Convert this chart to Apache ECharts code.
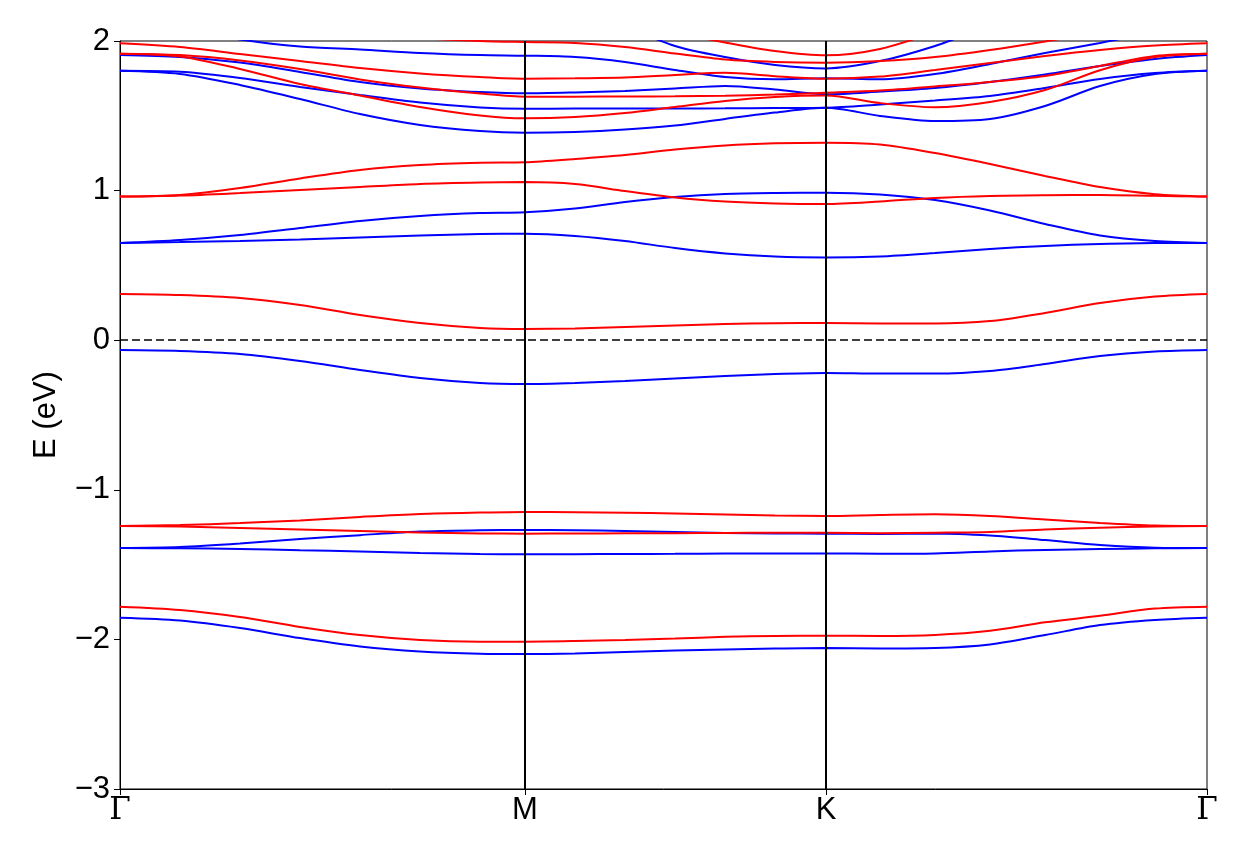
<!DOCTYPE html>
<html><head><meta charset="utf-8">
<script src="https://cdn.jsdelivr.net/npm/echarts@6/dist/echarts.min.js"></script>
<style>html,body{margin:0;padding:0;background:#fff}#c{width:1256px;height:850px}</style>
</head><body><div id="c"></div>
<script>
// k-path positions (arbitrary distance units along Γ-M-K-Γ)
const kx = [0,60,120,180,240,300,360,405,455,505,555,605,655,706,760,815,870,925,980,1035,1087];
const kTickPos = [0,405,706,1087];
const kTickLabels = ['Γ','M','K','Γ'];
const yTickValues = [-3,-2,-1,0,1,2];

// spin channel 1 (red)
const r1 = [-1.781,-1.803,-1.850,-1.917,-1.971,-2.004,-2.015,-2.015,-2.011,-2.004,-1.994,-1.983,-1.977,-1.975,-1.977,-1.970,-1.942,-1.886,-1.842,-1.794,-1.781];
const r2 = [-1.242,-1.236,-1.222,-1.205,-1.181,-1.161,-1.152,-1.148,-1.150,-1.153,-1.158,-1.165,-1.172,-1.175,-1.168,-1.164,-1.175,-1.199,-1.222,-1.239,-1.242];
const r3 = [-1.242,-1.245,-1.255,-1.265,-1.275,-1.285,-1.292,-1.293,-1.292,-1.291,-1.290,-1.289,-1.287,-1.287,-1.290,-1.287,-1.282,-1.265,-1.254,-1.245,-1.242];
const r4 = [0.309,0.302,0.282,0.235,0.168,0.115,0.082,0.075,0.078,0.088,0.098,0.108,0.114,0.115,0.112,0.112,0.128,0.182,0.249,0.292,0.309];
const r5 = [0.960,0.967,0.984,1.004,1.024,1.044,1.054,1.057,1.044,0.997,0.954,0.927,0.914,0.910,0.927,0.951,0.964,0.969,0.971,0.965,0.960];
const r6 = [0.960,0.971,1.017,1.081,1.138,1.171,1.186,1.189,1.211,1.238,1.275,1.302,1.316,1.320,1.308,1.251,1.178,1.098,1.024,0.976,0.960];
const r7 = [1.915,1.897,1.813,1.713,1.636,1.559,1.502,1.483,1.492,1.519,1.559,1.599,1.626,1.636,1.585,1.557,1.592,1.672,1.805,1.893,1.915];
const r8 = [1.915,1.906,1.870,1.813,1.743,1.689,1.649,1.628,1.628,1.629,1.630,1.634,1.642,1.654,1.669,1.696,1.726,1.766,1.833,1.900,1.915];
const r9 = [1.985,1.960,1.913,1.866,1.819,1.783,1.759,1.748,1.751,1.756,1.773,1.787,1.765,1.748,1.762,1.806,1.853,1.900,1.940,1.970,1.985];
const r10 = [2.15,2.145,2.13,2.10,2.06,2.02,2.00,1.993,1.987,1.960,1.916,1.876,1.860,1.855,1.866,1.893,1.940,1.997,2.06,2.12,2.15];
const r11 = [2.40,2.40,2.40,2.40,2.40,2.40,2.38,2.35,2.25,2.15,2.06,1.99,1.933,1.904,1.947,2.06,2.20,2.30,2.35,2.38,2.40];

// spin channel 2 (blue)
const b1 = [-1.855,-1.874,-1.924,-1.991,-2.047,-2.081,-2.096,-2.098,-2.094,-2.084,-2.074,-2.067,-2.061,-2.057,-2.060,-2.057,-2.034,-1.971,-1.904,-1.870,-1.855];
const b2 = [-1.389,-1.382,-1.359,-1.329,-1.303,-1.279,-1.271,-1.269,-1.270,-1.275,-1.282,-1.289,-1.292,-1.293,-1.295,-1.292,-1.306,-1.336,-1.369,-1.387,-1.389];
const b3 = [-1.389,-1.391,-1.396,-1.404,-1.412,-1.422,-1.429,-1.431,-1.430,-1.429,-1.428,-1.426,-1.425,-1.425,-1.428,-1.426,-1.412,-1.402,-1.396,-1.391,-1.389];
const b4 = [-0.066,-0.072,-0.092,-0.139,-0.199,-0.253,-0.286,-0.293,-0.286,-0.273,-0.256,-0.239,-0.226,-0.219,-0.223,-0.223,-0.206,-0.159,-0.106,-0.076,-0.066];
const b5 = [0.650,0.656,0.663,0.673,0.687,0.700,0.710,0.712,0.697,0.663,0.616,0.580,0.559,0.553,0.560,0.583,0.610,0.630,0.643,0.650,0.650];
const b6 = [0.650,0.670,0.703,0.750,0.797,0.830,0.850,0.855,0.880,0.924,0.957,0.977,0.984,0.986,0.974,0.937,0.867,0.777,0.700,0.663,0.650];
const b7 = [1.801,1.780,1.706,1.612,1.512,1.439,1.398,1.387,1.392,1.408,1.435,1.479,1.522,1.554,1.499,1.465,1.479,1.566,1.699,1.779,1.801];
const b8 = [1.801,1.794,1.753,1.693,1.639,1.589,1.556,1.547,1.548,1.548,1.549,1.550,1.552,1.554,1.576,1.602,1.632,1.686,1.746,1.786,1.801];
const b9 = [1.906,1.893,1.856,1.793,1.726,1.683,1.659,1.650,1.656,1.666,1.682,1.699,1.676,1.644,1.662,1.686,1.726,1.776,1.833,1.880,1.906];
const b10 = [2.12,2.08,2.01,1.963,1.943,1.920,1.906,1.902,1.893,1.860,1.806,1.759,1.744,1.751,1.744,1.779,1.846,1.920,1.987,2.06,2.12];
const b11 = [2.40,2.40,2.40,2.40,2.40,2.40,2.40,2.40,2.25,2.10,1.967,1.893,1.840,1.817,1.866,1.967,2.10,2.20,2.30,2.35,2.40];

const redBands = [r1,r2,r3,r4,r5,r6,r7,r8,r9,r10,r11];
const blueBands = [b1,b2,b3,b4,b5,b6,b7,b8,b9,b10,b11];

const FONT = 'Liberation Sans, Arial, sans-serif';
const FS = 31;
function bandSeries(band, color, z) {
  return {
    type: 'line', data: kx.map((x, i) => [x, band[i]]),
    showSymbol: false, smooth: 0.3, clip: true, z: z,
    lineStyle: { color: color, width: 2 }, silent: true
  };
}
const series = [];
blueBands.forEach(b => series.push(bandSeries(b, '#0000ff', 2)));
redBands.forEach(b => series.push(bandSeries(b, '#ff0000', 3)));
series.push({
  type: 'line', data: [], z: 5, silent: true,
  markLine: {
    symbol: 'none', silent: true, animation: false, label: { show: false },
    data: [
      { xAxis: kTickPos[1], lineStyle: { color: '#000', width: 2, type: 'solid' } },
      { xAxis: kTickPos[2], lineStyle: { color: '#000', width: 2, type: 'solid' } },
      { yAxis: 0, lineStyle: { color: '#000', width: 1.5, type: [8, 4] } }
    ]
  }
});

const chart = echarts.init(document.getElementById('c'), null, { renderer: 'canvas' });
chart.setOption({
  animation: false,
  backgroundColor: '#fff',
  grid: { left: 120, right: 49, top: 41, bottom: 61, show: true, borderColor: '#000', borderWidth: 1, backgroundColor: 'transparent' },
  xAxis: {
    type: 'value', min: 0, max: 1087,
    axisLine: { show: true, onZero: false, lineStyle: { color: '#000', width: 1 } },
    axisTick: { show: true, customValues: kTickPos, length: 6, inside: false, lineStyle: { color: '#000' } },
    axisLabel: {
      show: true, customValues: kTickPos, margin: 6, color: '#000', fontSize: FS, fontFamily: FONT,
      formatter: v => { const i = kTickPos.indexOf(Math.round(v)); const t = i >= 0 ? kTickLabels[i] : ''; return t === 'Γ' ? '{g|Γ}' : t; },
      rich: { g: { fontFamily: 'DejaVu Serif, Liberation Serif, serif', fontSize: FS, color: '#000' } }
    },
    splitLine: { show: false }
  },
  yAxis: {
    type: 'value', min: -3, max: 2, interval: 1,
    name: 'E (eV)', nameLocation: 'middle', nameGap: 58,
    nameTextStyle: { color: '#000', fontSize: FS, fontFamily: FONT },
    axisLine: { show: true, onZero: false, lineStyle: { color: '#000', width: 1 } },
    axisTick: { show: true, length: 6, inside: false, lineStyle: { color: '#000' } },
    axisLabel: { color: '#000', fontSize: FS, fontFamily: FONT, margin: 10, formatter: v => String(v).replace('-', '\u2212') },
    splitLine: { show: false }
  },
  series: series
});
</script>
</body></html>
